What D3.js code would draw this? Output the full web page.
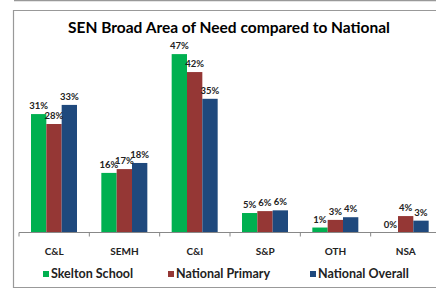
<!DOCTYPE html>
<html>
<head>
<meta charset="utf-8">
<script src="https://cdn.jsdelivr.net/npm/d3@7"></script>
<style>
  body { margin: 0; background: #fff; }
  svg { display: block; font-family: Lato, "Open Sans", sans-serif; }
</style>
</head>
<body>
<div id="chart"></div>
<script>
const categories = ["C&L", "SEMH", "C&I", "S&P", "OTH", "NSA"];
const seriesNames = ["Skelton School", "National Primary", "National Overall"];
const skelton = [31, 15.6, 46.7, 5.1, 1.3, 0];
const natPrimary = [28.4, 16.6, 42, 5.6, 3.3, 4.3];
const natOverall = [33.4, 18.2, 35, 5.8, 4, 3.1];
const colors = ["#00b050", "#953735", "#1f497d"];

const W = 436, H = 290;
const svg = d3.select("#chart").append("svg").attr("width", W).attr("height", H);

// outer frame
svg.append("line").attr("x1", 14).attr("x2", W).attr("y1", 0.5).attr("y2", 0.5)
  .attr("stroke", "#999").attr("stroke-width", 1.5);
svg.append("path").attr("d", `M${W},10.5H13.5V287.5H${W}`)
  .attr("fill", "none").attr("stroke", "#999").attr("stroke-width", 1.2);

svg.append("text")
  .attr("x", 229).attr("y", 33)
  .attr("text-anchor", "middle")
  .style("font-size", "15.5px").style("font-weight", "bold")
  .text("SEN Broad Area of Need compared to National");

const baseY = 232.5;
const x0 = d3.scaleBand().domain(categories).range([19, 441]);
const x1 = d3.scaleBand().domain(seriesNames).range([12, 58]);
const y = d3.scaleLinear().domain([0, 50]).range([baseY, baseY - 191]);

const rows = categories.map((c, i) => ({ cat: c, vals: [skelton[i], natPrimary[i], natOverall[i]] }));

const groups = svg.selectAll("g.grp").data(rows).enter().append("g")
  .attr("transform", d => `translate(${x0(d.cat)},0)`);

groups.selectAll("rect").data(d => d.vals.map((v, j) => ({ s: seriesNames[j], v, j })))
  .enter().append("rect")
  .attr("x", d => x1(d.s))
  .attr("y", d => y(d.v))
  .attr("width", x1.bandwidth())
  .attr("height", d => baseY - y(d.v))
  .attr("fill", d => colors[d.j]);

groups.selectAll("text").data(d => d.vals.map((v, j) => ({ s: seriesNames[j], v, j })))
  .enter().append("text")
  .attr("x", d => x1(d.s) + x1.bandwidth() / 2)
  .attr("y", d => y(d.v) - 5)
  .attr("text-anchor", "middle")
  .style("font-size", "9.5px").style("font-weight", "bold")
  .attr("fill", "#222")
  .text(d => Math.round(d.v) + "%");

// axis
const axis = svg.append("g").attr("transform", `translate(0,${baseY})`);
axis.append("line").attr("x1", 19).attr("x2", 441).attr("stroke", "#888");
axis.selectAll("line.tick").data(categories).enter().append("line")
  .attr("x1", d => x0(d)).attr("x2", d => x0(d)).attr("y1", 0).attr("y2", 4)
  .attr("stroke", "#888");
axis.selectAll("text").data(categories).enter().append("text")
  .attr("x", d => x0(d) + x0.bandwidth() / 2)
  .attr("y", 22)
  .attr("text-anchor", "middle")
  .style("font-size", "10px").style("font-weight", "bold")
  .attr("fill", "#222")
  .text(d => d);

// legend
const legX = [43, 168, 310];
const leg = svg.selectAll("g.leg").data(seriesNames).enter().append("g")
  .attr("transform", (d, i) => `translate(${legX[i]},271)`);
leg.append("rect").attr("width", 6).attr("height", 6).attr("fill", (d, i) => colors[i]);
leg.append("text").attr("x", 8).attr("y", 7)
  .style("font-size", "12.5px").style("font-weight", "bold")
  .attr("fill", "#222")
  .text(d => d);
</script>
</body>
</html>
